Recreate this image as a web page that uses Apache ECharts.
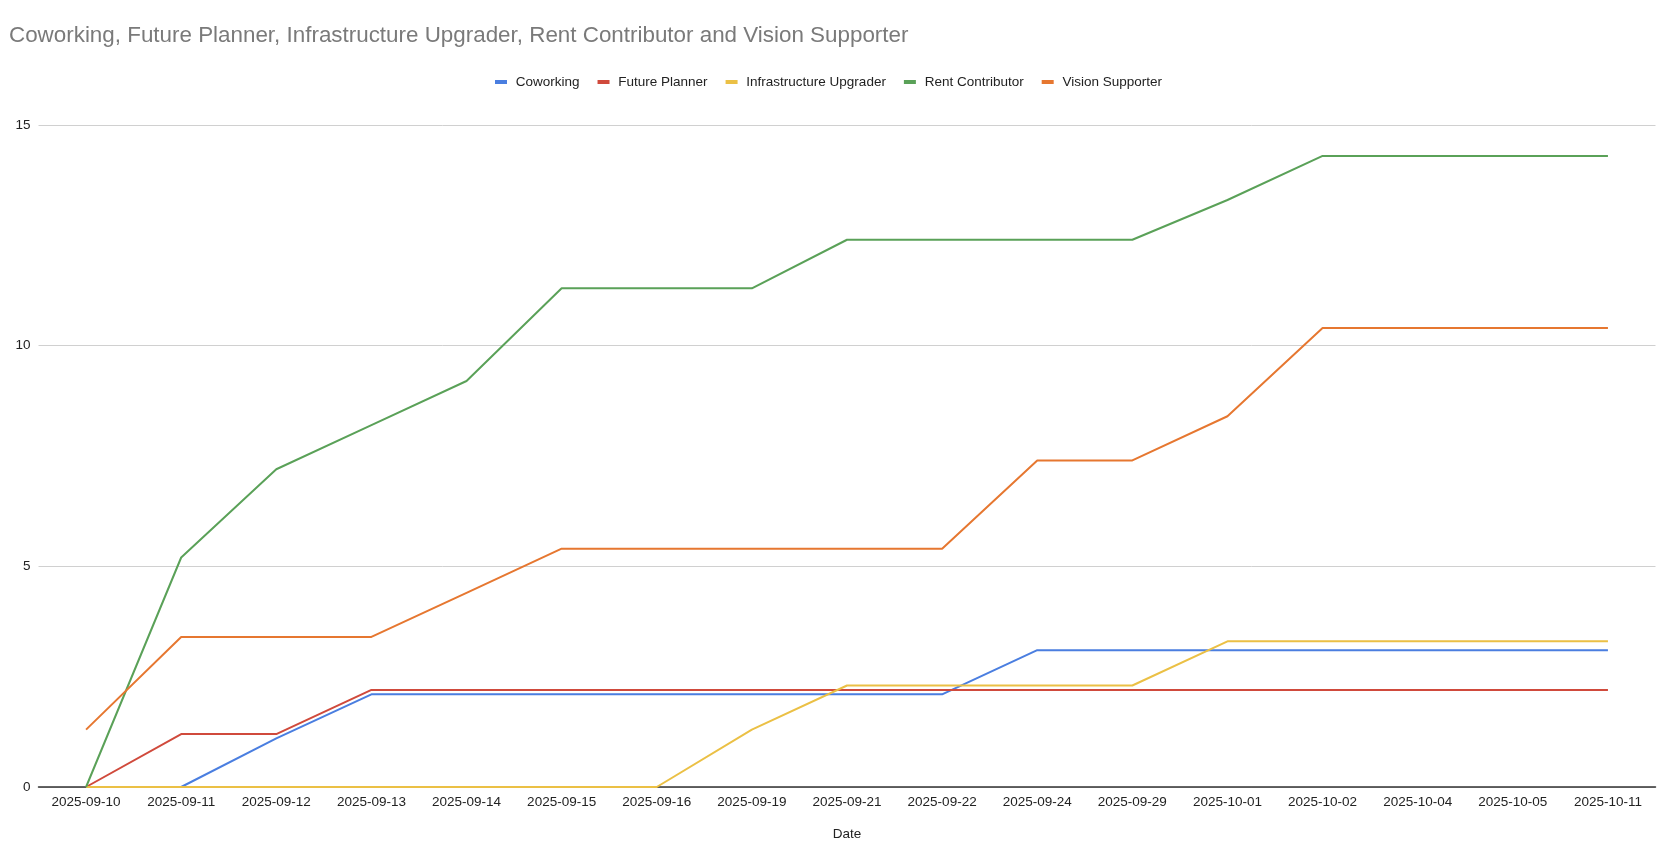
<!DOCTYPE html>
<html>
<head>
    <meta charset="utf-8" />
    <script src="https://cdn.jsdelivr.net/npm/echarts@6.0.0/dist/echarts.min.js"></script>
    <style>
        body {
            margin: 0px;
            overflow: hidden;
            background: #fff;
        }

        #mainReport {
            width: 1680px;
            height: 854px;
        }
    </style>
</head>

<body>
    <div id="mainReport"></div>
</body>

<script type="text/javascript">
    // categories (x axis)
    var reportDate = ['2025-09-10', '2025-09-11', '2025-09-12', '2025-09-13', '2025-09-14', '2025-09-15',
        '2025-09-16', '2025-09-19', '2025-09-21', '2025-09-22', '2025-09-24', '2025-09-29',
        '2025-10-01', '2025-10-02', '2025-10-04', '2025-10-05', '2025-10-11'];

    // series values
    var coworking      = [0, 0, 1.1, 2.1, 2.1, 2.1, 2.1, 2.1, 2.1, 2.1, 3.1, 3.1, 3.1, 3.1, 3.1, 3.1, 3.1];
    var futurePlanner  = [0, 1.2, 1.2, 2.2, 2.2, 2.2, 2.2, 2.2, 2.2, 2.2, 2.2, 2.2, 2.2, 2.2, 2.2, 2.2, 2.2];
    var infraUpgrader  = [0, 0, 0, 0, 0, 0, 0, 1.3, 2.3, 2.3, 2.3, 2.3, 3.3, 3.3, 3.3, 3.3, 3.3];
    var rentContrib    = [0, 5.2, 7.2, 8.2, 9.2, 11.3, 11.3, 11.3, 12.4, 12.4, 12.4, 12.4, 13.3, 14.3, 14.3, 14.3, 14.3];
    var visionSupport  = [1.3, 3.4, 3.4, 3.4, 4.4, 5.4, 5.4, 5.4, 5.4, 5.4, 7.4, 7.4, 8.4, 10.4, 10.4, 10.4, 10.4];

    var yTicks = [0, 5, 10, 15];

    var seriesNames = ['Coworking', 'Future Planner', 'Infrastructure Upgrader', 'Rent Contributor', 'Vision Supporter'];
    var seriesData = [coworking, futurePlanner, infraUpgrader, rentContrib, visionSupport];
    var colors = ['#4a7ee0', '#d04a3c', '#ebc045', '#5aa158', '#e67730'];

    var font = 'Liberation Sans, Arial, sans-serif';

    function loadChart() {
        var mainReport = echarts.init(document.getElementById('mainReport'));
        var option = {
            animation: false,
            color: colors,
            textStyle: { fontFamily: font },
            title: {
                text: 'Coworking, Future Planner, Infrastructure Upgrader, Rent Contributor and Vision Supporter',
                left: 4,
                top: 20,
                textStyle: {
                    color: '#7a7a7a',
                    fontSize: 22.4,
                    fontWeight: 'normal',
                    fontFamily: font
                }
            },
            legend: {
                top: 70,
                left: 490,
                icon: 'rect',
                itemWidth: 12,
                itemHeight: 4,
                itemGap: 18,
                // small leading space, the legend text sits a bit further from its key
                formatter: function (name) { return ' ' + name; },
                textStyle: { color: '#222', fontSize: 13.5, fontFamily: font },
                data: seriesNames
            },
            grid: {
                left: 38.5,
                right: 24.5,
                top: 125,
                bottom: 67,
                containLabel: false
            },
            xAxis: {
                type: 'category',
                boundaryGap: true,
                data: reportDate,
                name: 'Date',
                nameLocation: 'middle',
                nameGap: 40,
                nameTextStyle: { color: '#222', fontSize: 13.5 },
                axisLine: { lineStyle: { color: '#333', width: 1.5 } },
                axisTick: { show: false },
                axisLabel: { color: '#222', fontSize: 13.5, margin: 8, interval: 0 }
            },
            yAxis: {
                type: 'value',
                min: yTicks[0],
                max: yTicks[yTicks.length - 1],
                interval: 5,
                axisLine: { show: false },
                axisTick: { show: false },
                axisLabel: { color: '#222', fontSize: 13.5, margin: 8 },
                splitLine: { lineStyle: { color: '#d0d0d0', width: 1 } }
            },
            series: seriesNames.map(function (name, i) {
                return {
                    name: name,
                    type: 'line',
                    data: seriesData[i],
                    symbol: 'none',
                    lineStyle: { width: 2 }
                };
            })
        };
        mainReport.setOption(option);
    }

    loadChart();
</script>

</html>
